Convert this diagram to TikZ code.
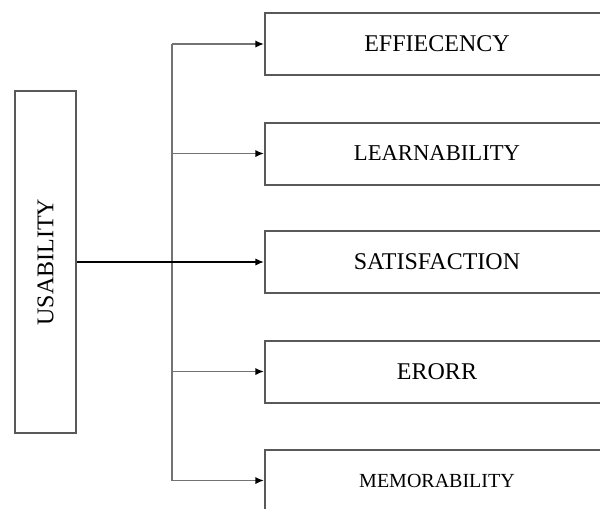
\documentclass[tikz,border=0pt]{standalone}
\usepackage{fontspec}
\setmainfont{Liberation Serif}
\usetikzlibrary{arrows.meta}
\tikzset{
  factorbox/.style={draw=black!65, line width=1.5pt, inner sep=0pt,
    minimum width=258pt, minimum height=46.5pt,
    font=\fontsize{18}{18}\selectfont},
  branch/.style={draw=black!55, line width=1.4pt},
  branchtip/.style={branch, -{Latex[length=6.5pt,width=5.5pt,color=black]}},
}
\begin{document}
\begin{tikzpicture}[x=0.75pt,y=-0.75pt]
                \useasboundingbox (0,0) rectangle (600,508);
                \clip (0,0) rectangle (600,508);
                {
                
                % Drawing the usability box
                \node [factorbox, minimum width=45.75pt, minimum height=256.5pt] (usab) at (45.5,262) {\rotatebox{90}{USABILITY}};%
                
                % Drawing the five factor boxes
                \node [factorbox] (effi) at (437,44) {EFFIECENCY};%
                \node [factorbox, font=\fontsize{17}{17}\selectfont] (learn) at (437,153.5) {LEARNABILITY};%
                \node [factorbox] (satis) at (437,262) {SATISFACTION};%
                \node [factorbox] (erorr) at (437,371.5) {ERORR};%
                \node [factorbox, font=\fontsize{15}{15}\selectfont] (memo) at (437,480.5) {MEMORABILITY};%
                
                % Drawing the trunk
                \coordinate (trunktop) at (172,44);%
                \coordinate (trunkbot) at (172,480.5);%
                \draw [branch] (trunktop) -- (trunkbot);%
                
                % Drawing the branches
                \draw [branchtip] (trunktop) -- (effi);%
                \draw [branchtip] (trunktop |- learn) -- (learn);%
                \draw [branchtip, draw=black, line width=1.2pt] (usab) -- (satis);%
                \draw [branchtip] (trunktop |- erorr) -- (erorr);%
                \draw [branchtip] (trunkbot) -- (memo);%
                }
\end{tikzpicture}
\end{document}
